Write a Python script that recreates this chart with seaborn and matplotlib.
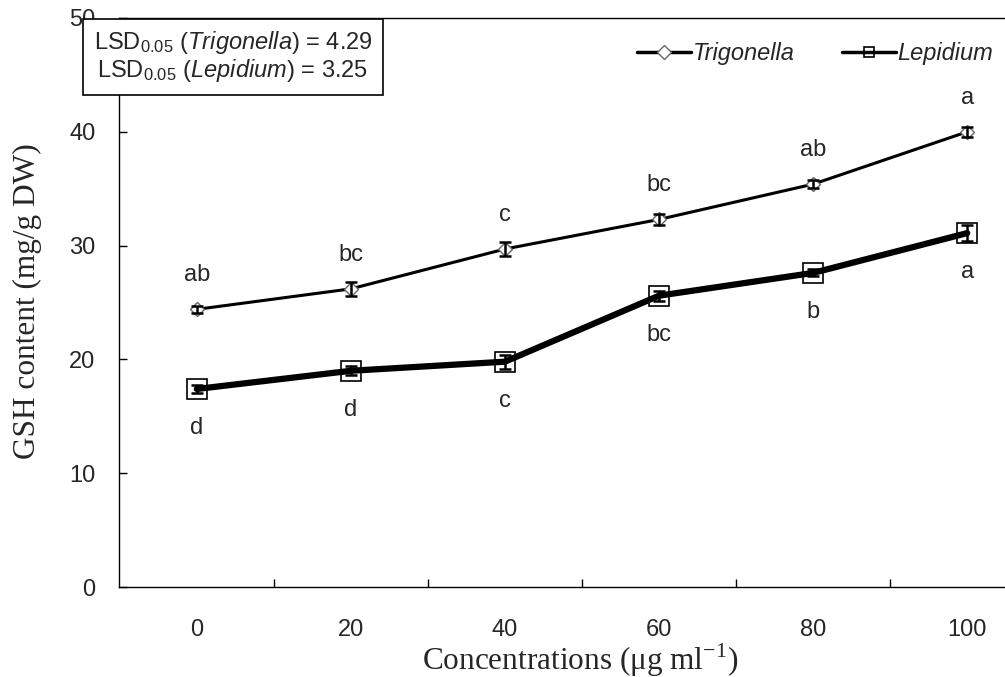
import matplotlib.pyplot as plt
import seaborn as sns
import numpy as np

sns.set_style("white")
plt.rcParams["font.family"] = ["Liberation Sans", "DejaVu Sans"]
plt.rcParams["mathtext.fontset"] = "custom"
plt.rcParams["mathtext.rm"] = "Liberation Serif"
plt.rcParams["mathtext.it"] = "Liberation Sans:italic"
plt.rcParams["mathtext.sf"] = "Liberation Sans"

# data
conc = [0, 20, 40, 60, 80, 100]
trig = [24.4, 26.2, 29.7, 32.3, 35.4, 40.0]
trig_err = [0.3, 0.6, 0.6, 0.5, 0.35, 0.45]
trig_letters = ["ab", "bc", "c", "bc", "ab", "a"]
lep = [17.4, 19.0, 19.8, 25.6, 27.6, 31.1]
lep_err = [0.35, 0.4, 0.6, 0.45, 0.3, 0.7]
lep_letters = ["d", "d", "c", "bc", "b", "a"]

fig = plt.figure(figsize=(10.05, 6.77), dpi=100)
ax = fig.add_axes([119 / 1005, 1 - 587 / 677, (1005 - 119) / 1005, 569 / 677])

sns.lineplot(x=conc, y=trig, ax=ax, color="black", lw=2.2, marker="D",
             markersize=7, markerfacecolor="white", markeredgecolor="#666666",
             markeredgewidth=1, label="Trigonella")
sns.lineplot(x=conc, y=lep, ax=ax, color="black", lw=4.5, marker="s",
             markersize=14, markerfacecolor="none", markeredgecolor="black",
             markeredgewidth=1.2, label="Lepidium")
ax.errorbar(conc, trig, yerr=trig_err, fmt="none", ecolor="black",
            elinewidth=1.8, capsize=4, capthick=1.8, zorder=5)
ax.errorbar(conc, lep, yerr=lep_err, fmt="none", ecolor="black",
            elinewidth=1.8, capsize=4, capthick=1.8, zorder=5)

for x, y, t in zip(conc, trig, trig_letters):
    ax.annotate(t, (x, y), xytext=(0, 24.5), textcoords="offset points",
                ha="center", va="center", fontsize=17)
for x, y, t in zip(conc, lep, lep_letters):
    ax.annotate(t, (x, y), xytext=(0, -28), textcoords="offset points",
                ha="center", va="center", fontsize=17)

ax.set_xlim(-10.1, 104.9)
ax.set_ylim(0, 50)
ax.set_xticks(conc)
ax.set_xticks([10, 30, 50, 70, 90], minor=True)
ax.set_yticks([0, 10, 20, 30, 40, 50])
ax.tick_params(axis="x", which="major", length=0, pad=23, labelsize=17)
ax.tick_params(axis="x", which="minor", direction="in", length=6, width=1,
               color="black", bottom=True)
ax.tick_params(axis="y", direction="in", length=6, width=1, color="black",
               left=True, pad=17, labelsize=17)
for s in ["left", "bottom", "top"]:
    ax.spines[s].set_color("black")
    ax.spines[s].set_linewidth(1)
ax.spines["right"].set_visible(False)

ax.set_xlabel(r"Concentrations (μg ml$^{\mathrm{-1}}$)",
              fontfamily="Liberation Serif", fontsize=22.5)
ax.xaxis.set_label_coords(0.52, -0.128)
ax.xaxis.label.set_va("center")
ax.set_ylabel("GSH content (mg/g DW)", fontfamily="Liberation Serif", fontsize=22.5)
ax.yaxis.set_label_coords(-0.103, 0.503)
ax.yaxis.label.set_va("center")

leg = ax.legend(loc="center right", bbox_to_anchor=(0.997, 0.937), ncol=2,
                frameon=False, fontsize=17, handlelength=2.3,
                handletextpad=0.05, columnspacing=2.0, borderaxespad=0)
for t in leg.get_texts():
    t.set_fontstyle("italic")
for h in leg.legend_handles:
    h.set_linewidth(2.5)
    h.set_markersize(7)

fig.text(233 / 1005, 1 - 57 / 677,
         "LSD$\\mathregular{_{0.05}}$ ($\\mathit{Trigonella}$) = 4.29\n"
         "LSD$\\mathregular{_{0.05}}$ ($\\mathit{Lepidium}$) = 3.25",
         ha="center", va="center", multialignment="center", fontsize=17,
         linespacing=1.05, zorder=10,
         bbox=dict(boxstyle="square,pad=0.45", facecolor="white",
                   edgecolor="black", linewidth=1.2))

fig.savefig("out.png", dpi=100)
